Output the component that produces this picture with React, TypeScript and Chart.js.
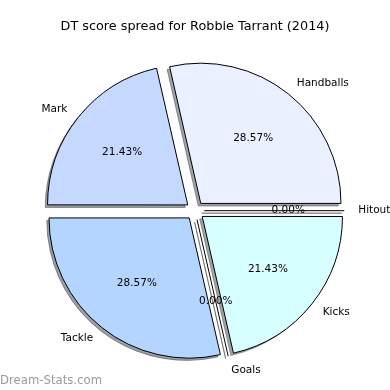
import React, { useEffect, useRef } from "react";
import { Chart, registerables } from "chart.js";

Chart.register(...registerables);

// ---- data (matplotlib counter-clockwise order, starting at east) ----
const TITLE = "DT score spread for Robbie Tarrant (2014)";
const categories = ["Handballs", "Mark", "Tackle", "Goals", "Kicks", "Hitout"];
const shares = [28.57, 21.43, 28.57, 0, 21.43, 0];
const sliceColors = ["#EAF0FF", "#C5D8FF", "#B4D5FF", "#D0D0D0", "#D8FFFF", "#E0E0E0"];
const WATERMARK = "Dream-Stats.com";

const FONT = "'DejaVu Sans', sans-serif";
const RADIUS = 140;
const OFFSET = 37; // Chart.js shifts an arc by offset / 4
const SH_DX = -2.5;
const SH_DY = 2.5;

// Chart.js draws clockwise, so reverse to mimic counter-clockwise layout
const cjLabels = [...categories].reverse();
const cjValues = [...shares].reverse();
const cjColors = [...sliceColors].reverse();

function shadowColor(hex: string) {
  const r = parseInt(hex.slice(1, 3), 16);
  const g = parseInt(hex.slice(3, 5), 16);
  const b = parseInt(hex.slice(5, 7), 16);
  return `rgba(${Math.round(r * 0.3)},${Math.round(g * 0.3)},${Math.round(b * 0.3)},0.5)`;
}

function geom(el: any) {
  const p = el.getProps(["x", "y", "startAngle", "endAngle", "outerRadius"], true);
  const off = (el.options.offset || 0) / 4;
  const mid = (p.startAngle + p.endAngle) / 2;
  return {
    ...p,
    mid,
    cx: p.x + Math.cos(mid) * off,
    cy: p.y + Math.sin(mid) * off,
  };
}

const piePlugin = {
  id: "pieExtras",
  beforeDatasetsDraw(chart: any) {
    const ctx = chart.ctx as CanvasRenderingContext2D;
    const meta = chart.getDatasetMeta(0);
    ctx.save();
    meta.data.forEach((el: any, i: number) => {
      const g = geom(el);
      const sx = g.cx + SH_DX;
      const sy = g.cy + SH_DY;
      const col = shadowColor(cjColors[i]);
      ctx.beginPath();
      ctx.moveTo(sx, sy);
      ctx.arc(sx, sy, g.outerRadius, g.startAngle, g.endAngle);
      ctx.closePath();
      ctx.fillStyle = col;
      ctx.strokeStyle = col;
      ctx.lineWidth = 1;
      if (g.endAngle - g.startAngle > 0) ctx.fill();
      ctx.stroke();
    });
    ctx.restore();
  },
  afterDatasetsDraw(chart: any) {
    const ctx = chart.ctx as CanvasRenderingContext2D;
    const meta = chart.getDatasetMeta(0);
    const total = cjValues.reduce((a, b) => a + b, 0);
    ctx.save();
    // zero-size wedges are drawn as lines
    meta.data.forEach((el: any) => {
      const g = geom(el);
      if (g.endAngle - g.startAngle > 0) return;
      ctx.beginPath();
      ctx.moveTo(g.cx, g.cy);
      ctx.lineTo(g.cx + Math.cos(g.mid) * g.outerRadius, g.cy + Math.sin(g.mid) * g.outerRadius);
      ctx.strokeStyle = "#000";
      ctx.lineWidth = 1;
      ctx.stroke();
    });
    ctx.font = `10.5px ${FONT}`;
    ctx.fillStyle = "#000";
    ctx.textBaseline = "middle";
    meta.data.forEach((el: any, i: number) => {
      const g = geom(el);
      const c = Math.cos(g.mid);
      const s = Math.sin(g.mid);
      const pct = ((cjValues[i] / total) * 100).toFixed(2) + "%";
      ctx.textAlign = "center";
      ctx.fillText(pct, g.cx + c * g.outerRadius * 0.6, g.cy + s * g.outerRadius * 0.6);
      ctx.textAlign = c >= 0 ? "left" : "right";
      ctx.fillText(cjLabels[i], g.cx + c * g.outerRadius * 1.1, g.cy + s * g.outerRadius * 1.1);
    });
    ctx.restore();
  },
  afterDraw(chart: any) {
    const ctx = chart.ctx as CanvasRenderingContext2D;
    ctx.save();
    ctx.font = `11.7px ${FONT}`;
    ctx.fillStyle = "#9a9a9a";
    ctx.textAlign = "left";
    ctx.textBaseline = "middle";
    ctx.fillText(WATERMARK, 0, 380.5);
    ctx.restore();
  },
};

export default function App() {
  const ref = useRef<HTMLCanvasElement | null>(null);
  useEffect(() => {
    if (!ref.current) return;
    const chart = new Chart(ref.current, {
      type: "pie",
      data: {
        labels: cjLabels,
        datasets: [
          {
            data: cjValues,
            backgroundColor: cjColors,
            borderColor: "#000",
            borderWidth: 1,
            offset: OFFSET,
            radius: RADIUS,
          } as any,
        ],
      },
      options: {
        animation: false,
        responsive: true,
        maintainAspectRatio: false,
        rotation: 90,
        radius: RADIUS,
        layout: { padding: { top: 0, bottom: 3, left: 0, right: 0 } },
        plugins: {
          legend: { display: false },
          tooltip: { enabled: false },
          title: {
            display: true,
            text: TITLE,
            color: "#000",
            font: { family: FONT, size: 12.8, weight: "normal", lineHeight: 1.2 },
            padding: { top: 19, bottom: 0 },
          },
        },
      } as any,
      plugins: [piePlugin],
    });
    return () => chart.destroy();
  }, []);
  return (
    <div style={{ position: "fixed", left: 0, top: 0, width: 390, height: 390, background: "#fff" }}>
      <canvas ref={ref} />
    </div>
  );
}
